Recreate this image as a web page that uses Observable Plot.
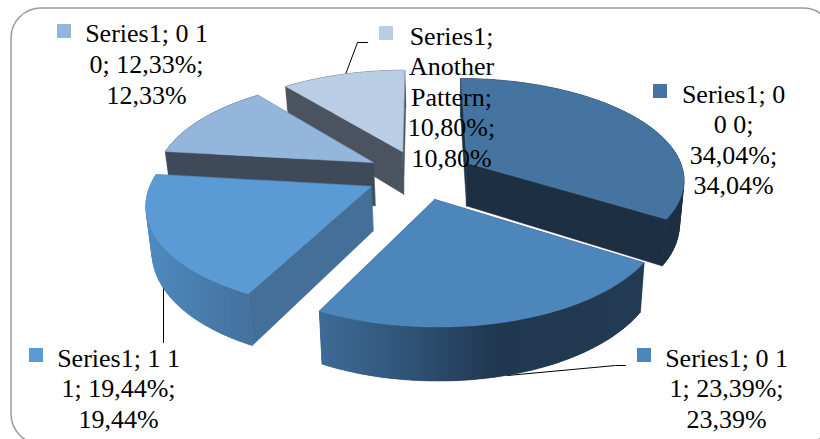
<!DOCTYPE html>
<html>
<head>
<meta charset="utf-8">
<script src="https://cdn.jsdelivr.net/npm/d3@7"></script>
<script src="https://cdn.jsdelivr.net/npm/@observablehq/plot@0.6"></script>
<style>html,body{margin:0;padding:0;background:#fff}svg{display:block}</style>
</head>
<body>
<div id="chart"></div>
<script>
// Data
const names = ["0 0 0", "0 1 1", "1 1 1", "0 1 0", "Another Pattern"];
const shares = [34.04, 23.39, 19.44, 12.33, 10.80];
const topColors = ["#44749f", "#4d86ba", "#5b9bd5", "#94b6dd", "#b9cde5"];
const wallColors = ["#1d2f42", "#223a52", "#436f99", "#3e4a59", "#4c5360"];
const sideFills = ["#1d2f42", "url(#side2)", "url(#side3)", "#3e4a59", "#4c5360"];
const labelLines = [
  ["Series1; 0", "0 0;", "34,04%;", "34,04%"],
  ["Series1; 0 1", "1; 23,39%;", "23,39%"],
  ["Series1; 1 1", "1; 19,44%;", "19,44%"],
  ["Series1; 0 1", "0; 12,33%;", "12,33%"],
  ["Series1;", "Another", "Pattern;", "10,80%;", "10,80%"]
];
// Layout
const W = 820, H = 439;
const labelCx = [733, 726, 118, 146, 451];
const labelY0 = [102, 366, 366, 41, 44];
const lineGap = [30.5, 30.5, 30.5, 31, 30.5];
const keyX = [653, 637, 29, 57, 379];
const keyY = [84, 348, 348, 24, 26];
const leaders = [
  [[345, 74], [357, 42], [367, 42]],
  [[507, 375], [615, 365], [625, 365]],
  [[163, 288], [163, 342]]
];
// 3D pie projection
const cx = 419.5, cy = 174, A = 217.5, B = 100, k = 0.15, expl = 0.25, depth = 44, squeeze = 0.02, squeezeX = 455;
const project = (X, Y, z) => {
  const s = 1 / (1 + k * Y);
  const x = cx + A * X * s;
  return {x: x - (x - squeezeX) * squeeze * z, y: cy - B * Y * s + depth * z * s};
};
const total = d3.sum(shares);
let acc = 0;
const slices = shares.map((v, i) => {
  const a0 = acc / total * 2 * Math.PI;
  acc += v;
  const a1 = acc / total * 2 * Math.PI;
  const am = (a0 + a1) / 2;
  const ox = expl * Math.sin(am), oy = expl * Math.cos(am);
  const steps = d3.range(61).map(j => a0 + (a1 - a0) * j / 60);
  const arc = z => steps.map(a => project(ox + Math.sin(a), oy + Math.cos(a), z));
  const apex = z => project(ox, oy, z);
  const t = arc(0), b = arc(1);
  return {
    top: [apex(0), ...t],
    outer: [...t, ...b.slice().reverse()],
    // the swept wall: one quad per arc step, so the silhouette between the two rims is filled
    sweep: d3.range(60).flatMap(j => [t[j], t[j + 1], b[j + 1], b[j]].map(p => ({...p, q: j}))),
    wallStart: [apex(0), t[0], b[0], apex(1)],
    wallEnd: [apex(0), t[60], b[60], apex(1)],
    i
  };
});
const poly = (pts, fill, stroke) => Plot.line(pts, {x: "x", y: "y", fill, stroke, strokeWidth: 0.5, curve: "linear-closed"});
const drawOrder = [4, 3, 0, 2, 1];
const pieMarks = drawOrder.flatMap(i => {
  const s = slices[i];
  return [
    poly(s.wallEnd, wallColors[i], wallColors[i]),
    poly(s.wallStart, wallColors[i], wallColors[i]),
    Plot.line(s.sweep, {x: "x", y: "y", z: "q", fill: sideFills[i], stroke: sideFills[i], strokeWidth: 0.5, curve: "linear-closed"}),
    poly(s.outer, sideFills[i], "none"),
    poly(s.top, topColors[i], topColors[i])
  ];
});
const defs = () => {
  const ns = "http://www.w3.org/2000/svg";
  const d = document.createElementNS(ns, "defs");
  const grad = (id, x1, x2, stops) => {
    const g = document.createElementNS(ns, "linearGradient");
    g.setAttribute("id", id);
    g.setAttribute("gradientUnits", "userSpaceOnUse");
    g.setAttribute("x1", x1); g.setAttribute("x2", x2);
    g.setAttribute("y1", 0); g.setAttribute("y2", 0);
    stops.forEach(([o, c]) => {
      const st = document.createElementNS(ns, "stop");
      st.setAttribute("offset", o); st.setAttribute("stop-color", c);
      g.appendChild(st);
    });
    d.appendChild(g);
  };
  grad("side2", 320, 640, [[0, "#3d6b96"], [0.2, "#335a80"], [0.55, "#203750"], [1, "#223a52"]]);
  grad("side3", 146, 262, [[0, "#4f8abf"], [0.6, "#4679a8"], [1, "#436f99"]]);
  return d;
};
const textRows = labelLines.flatMap((lines, i) => lines.map((t, j) => ({t, x: labelCx[i], y: labelY0[i] + j * lineGap[i]})));
const keyRows = keyX.map((x, i) => ({x1: x, x2: x + 14, y1: keyY[i], y2: keyY[i] + 14, fill: topColors[i], name: names[i]}));

const plot = Plot.plot({
  width: W, height: H,
  margin: 0,
  x: {domain: [0, W], range: [0, W], axis: null},
  y: {domain: [0, H], range: [0, H], axis: null},
  color: {type: "identity"},
  style: {background: "#fff", overflow: "hidden"},
  marks: [
    defs,
    Plot.rect([{x1: 11, x2: 833, y1: 8, y2: 444}], {x1: "x1", x2: "x2", y1: "y1", y2: "y2", rx: 30, fill: "#fff", stroke: "#9a9a9a", strokeWidth: 1.5}),
    ...leaders.map(l => Plot.line(l.map(([x, y]) => ({x, y})), {x: "x", y: "y", stroke: "#000", strokeWidth: 1})),
    ...pieMarks,
    Plot.rect(keyRows, {x1: "x1", x2: "x2", y1: "y1", y2: "y2", fill: "fill"}),
    Plot.text(textRows, {x: "x", y: "y", text: "t", fontFamily: "Liberation Serif", fontSize: 26, fill: "#000", textAnchor: "middle", lineAnchor: "bottom"})
  ]
});
document.getElementById("chart").appendChild(plot);
</script>
</body>
</html>
